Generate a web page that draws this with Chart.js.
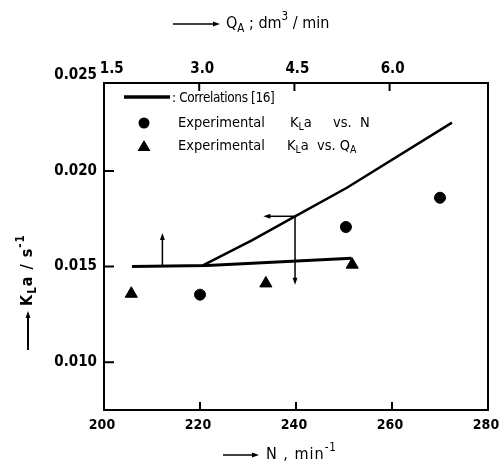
<!DOCTYPE html>
<html>
<head>
<meta charset="utf-8">
<script src="https://cdn.jsdelivr.net/npm/chart.js@4.4.1/dist/chart.umd.min.js"></script>
<style>
  html, body { margin: 0; padding: 0; background: #fff; }
</style>
</head>
<body>
<canvas id="chart" width="500" height="467"></canvas>
<script>
// Tick labels
const nTicks = [200, 220, 240, 260, 280];
const qTicks = [1.5, 3.0, 4.5, 6.0];
const klaTicks = [0.010, 0.015, 0.020, 0.025];

// Experimental KLa vs N (bottom axis)
const expN = [220, 250.4, 270];
const expKlaN = [0.01353, 0.01707, 0.0186];

// Experimental KLa vs QA (top axis)
const expQ = [1.93, 4.05, 5.41];
const expKlaQ = [0.01358, 0.01412, 0.0151];

// Correlations [16]
const corrN = [220.5, 230.8, 239.8, 250.6, 272.5];
const corrKlaN = [0.01505, 0.01637, 0.01763, 0.01912, 0.02253];
const corrQ = [1.94, 3.13, 5.40];
const corrKlaQ = [0.0150, 0.01505, 0.01544];

// Small arrows showing which axis a curve belongs to: [x0, y0, x1, y1]
const arrowsN = [[239.8, 0.01763, 233.2, 0.01763], [239.8, 0.01763, 239.8, 0.01405]];
const arrowsQ = [[2.42, 0.0150, 2.42, 0.01675]];

const FONT = '"DejaVu Sans Condensed", "Liberation Sans Narrow", "DejaVu Sans", sans-serif';

function toPoints(xs, ys) {
  return xs.map((x, i) => ({ x: x, y: ys[i] }));
}

// Text with subscripts / superscripts, parts = [[text, mode]]
function drawRich(ctx, parts, x, y, size, weight) {
  let cx = x;
  parts.forEach(([t, mode]) => {
    const s = mode ? size * 0.72 : size;
    ctx.font = `${weight} ${s}px ${FONT}`;
    const dy = mode === "sub" ? size * 0.32 : mode === "sup" ? -size * 0.42 : 0;
    ctx.fillText(t, cx, y + dy);
    cx += ctx.measureText(t).width;
  });
  return cx;
}

// Arrow with head at (x1, y1)
function drawArrow(ctx, x0, y0, x1, y1, head) {
  const ang = Math.atan2(y1 - y0, x1 - x0);
  ctx.beginPath();
  ctx.moveTo(x0, y0);
  ctx.lineTo(x1 - Math.cos(ang) * head * 0.6, y1 - Math.sin(ang) * head * 0.6);
  ctx.stroke();
  ctx.beginPath();
  ctx.moveTo(x1, y1);
  ctx.lineTo(x1 - Math.cos(ang) * head + Math.sin(ang) * head * 0.35, y1 - Math.sin(ang) * head - Math.cos(ang) * head * 0.35);
  ctx.lineTo(x1 - Math.cos(ang) * head - Math.sin(ang) * head * 0.35, y1 - Math.sin(ang) * head + Math.cos(ang) * head * 0.35);
  ctx.closePath();
  ctx.fill();
}

// Frame, inward tick marks, arrows on the curves
const framePlugin = {
  id: "frame",
  afterDatasetsDraw(chart) {
    const { ctx, chartArea: a, scales } = chart;
    ctx.save();
    ctx.strokeStyle = "#000";
    ctx.fillStyle = "#000";
    ctx.lineWidth = 2;
    ctx.strokeRect(a.left, a.top, a.right - a.left, a.bottom - a.top);
    ctx.beginPath();
    nTicks.forEach((v) => {
      const px = scales.x.getPixelForValue(v);
      ctx.moveTo(px, a.bottom);
      ctx.lineTo(px, a.bottom - 8);
    });
    qTicks.forEach((v) => {
      const px = scales.x2.getPixelForValue(v);
      ctx.moveTo(px, a.top);
      ctx.lineTo(px, a.top + 8);
    });
    klaTicks.forEach((v) => {
      const py = scales.y.getPixelForValue(v);
      if (py < a.top) return;
      ctx.moveTo(a.left, py);
      ctx.lineTo(a.left + 10, py);
    });
    ctx.stroke();

    ctx.lineWidth = 1.5;
    arrowsN.forEach(([x0, y0, x1, y1]) => {
      drawArrow(ctx, scales.x.getPixelForValue(x0), scales.y.getPixelForValue(y0),
        scales.x.getPixelForValue(x1), scales.y.getPixelForValue(y1), 7);
    });
    arrowsQ.forEach(([x0, y0, x1, y1]) => {
      drawArrow(ctx, scales.x2.getPixelForValue(x0), scales.y.getPixelForValue(y0),
        scales.x2.getPixelForValue(x1), scales.y.getPixelForValue(y1), 7);
    });
    ctx.restore();
  },
  afterDraw(chart) {
    const { ctx, chartArea: a } = chart;
    ctx.save();
    ctx.fillStyle = "#000";
    ctx.strokeStyle = "#000";
    ctx.textBaseline = "middle";
    ctx.textAlign = "left";

    // Legend inside the plot
    ctx.lineWidth = 3.5;
    ctx.beginPath();
    ctx.moveTo(a.left + 20, a.top + 14);
    ctx.lineTo(a.left + 66, a.top + 14);
    ctx.stroke();
    ctx.letterSpacing = "-0.4px";
    drawRich(ctx, [[": Correlations [16]"]], a.left + 68, a.top + 15, 13.5, "normal");
    ctx.letterSpacing = "0px";
    ctx.beginPath();
    ctx.arc(a.left + 40, a.top + 40, 5.5, 0, Math.PI * 2);
    ctx.fill();
    drawRich(ctx, [["Experimental"]], a.left + 74, a.top + 40, 14.5, "normal");
    drawRich(ctx, [["K"], ["L", "sub"], ["a"]], a.left + 186, a.top + 40, 14.5, "normal");
    drawRich(ctx, [["vs.  N"]], a.left + 229, a.top + 40, 14.5, "normal");
    ctx.beginPath();
    ctx.moveTo(a.left + 40, a.top + 57);
    ctx.lineTo(a.left + 46.5, a.top + 68);
    ctx.lineTo(a.left + 33.5, a.top + 68);
    ctx.closePath();
    ctx.fill();
    drawRich(ctx, [["Experimental"]], a.left + 74, a.top + 63, 14.5, "normal");
    drawRich(ctx, [["K"], ["L", "sub"], ["a"]], a.left + 183, a.top + 63, 14.5, "normal");
    drawRich(ctx, [["vs. Q"], ["A", "sub"]], a.left + 213, a.top + 63, 14.5, "normal");

    // Axis titles
    ctx.lineWidth = 1.5;
    drawArrow(ctx, 173, 24, 220, 24, 7);
    drawRich(ctx, [["Q"], ["A", "sub"], [" ; dm"], ["3", "sup"], [" / min"]], 226, 24, 16, "normal");

    ctx.letterSpacing = "1px";
    drawArrow(ctx, 223, 455, 259, 455, 7);
    drawRich(ctx, [["N , min"], ["-1", "sup"]], 266, 455, 16, "normal");

    ctx.translate(28, 0);
    ctx.rotate(-Math.PI / 2);
    ctx.lineWidth = 2;
    drawArrow(ctx, -350, 0, -311, 0, 7);
    drawRich(ctx, [["K"], ["L", "sub"], ["a / s"], ["-1", "sup"]], -306, 0, 16, "bold");
    ctx.restore();
  }
};

const tickFont = { family: FONT, size: 15, weight: "bold" };

// Keep the chart area fixed: no extra room for overhanging labels
function noPad(s) {
  s.paddingLeft = 0;
  s.paddingRight = 0;
  s.paddingTop = 0;
  s.paddingBottom = 0;
}

new Chart(document.getElementById("chart"), {
  type: "scatter",
  data: {
    datasets: [
      {
        label: "Correlations [16] vs N",
        data: toPoints(corrN, corrKlaN),
        xAxisID: "x",
        showLine: true,
        borderColor: "#000",
        borderWidth: 2.5,
        pointRadius: 0,
        fill: false,
      },
      {
        label: "Correlations [16] vs QA",
        data: toPoints(corrQ, corrKlaQ),
        xAxisID: "x2",
        showLine: true,
        borderColor: "#000",
        borderWidth: 3,
        pointRadius: 0,
        fill: false,
      },
      {
        label: "Experimental KLa vs. N",
        data: toPoints(expN, expKlaN),
        xAxisID: "x",
        pointStyle: "circle",
        pointRadius: 5.5,
        backgroundColor: "#000",
        borderColor: "#000",
      },
      {
        label: "Experimental KLa vs. QA",
        data: toPoints(expQ, expKlaQ),
        xAxisID: "x2",
        pointStyle: "triangle",
        pointRadius: 7,
        backgroundColor: "#000",
        borderColor: "#000",
      },
    ],
  },
  options: {
    responsive: false,
    animation: false,
    layout: { padding: { top: 0, right: 12, bottom: 0, left: 0 } },
    plugins: { legend: { display: false }, tooltip: { enabled: false } },
    scales: {
      x: {
        type: "linear",
        position: "bottom",
        min: 200,
        max: 280,
        afterBuildTicks: (s) => { s.ticks = nTicks.map((v) => ({ value: v })); },
        afterFit: (s) => { s.height = 57; noPad(s); },
        grid: { display: false, drawTicks: false },
        border: { display: false },
        ticks: { color: "#000", font: { family: FONT, size: 14, weight: "bold" }, padding: 7,
          maxRotation: 0, autoSkip: false, labelOffset: -2 },
      },
      x2: {
        type: "linear",
        position: "top",
        min: 1.5,
        max: 7.55,
        afterBuildTicks: (s) => { s.ticks = qTicks.map((v) => ({ value: v })); },
        afterFit: (s) => { s.height = 83; noPad(s); },
        grid: { display: false, drawTicks: false },
        border: { display: false },
        ticks: { color: "#000", font: tickFont, padding: 5, maxRotation: 0, autoSkip: false,
          labelOffset: 3,
          callback: (v) => (v === qTicks[0] ? "  " : "") + v.toFixed(1) },
      },
      y: {
        type: "linear",
        position: "left",
        min: 0.0075,
        max: 0.0246,
        afterBuildTicks: (s) => { s.ticks = klaTicks.map((v) => ({ value: v })); },
        afterFit: (s) => { s.width = 104; noPad(s); },
        grid: { display: false, drawTicks: false },
        border: { display: false },
        ticks: { color: "#000", font: tickFont, padding: 7, autoSkip: false,
          callback: (v) => v.toFixed(3) },
      },
    },
  },
  plugins: [framePlugin],
});
</script>
</body>
</html>
